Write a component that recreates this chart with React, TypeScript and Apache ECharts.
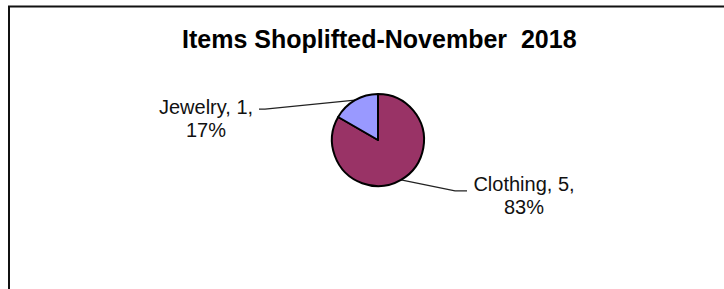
import React, { useEffect, useRef } from "react";
import * as echarts from "echarts";

const titleText = "Items Shoplifted-November  2018";
const categories = ["Clothing", "Jewelry"];
const values = [5, 1];
const colors = ["#993366", "#9999FF"];

export default function App() {
  const ref = useRef<HTMLDivElement>(null);
  useEffect(() => {
    if (!ref.current) return;
    const chart = echarts.init(ref.current, null, { renderer: "svg" });
    const font = "'Liberation Sans', Arial, Helvetica, sans-serif";
    chart.setOption({
      animation: false,
      backgroundColor: "#ffffff",
      title: {
        text: titleText,
        left: 177,
        top: 21,
        textStyle: {
          fontFamily: font,
          fontSize: 25,
          fontWeight: "bold",
          color: "#000",
        },
      },
      graphic: [
        {
          type: "rect",
          shape: { x: 9, y: 6.5, width: 740, height: 320 },
          style: { fill: "none", stroke: "#111", lineWidth: 2 },
          silent: true,
        },
      ],
      series: [
        {
          type: "pie",
          center: [378, 140],
          radius: 46,
          startAngle: 90,
          clockwise: true,
          avoidLabelOverlap: false,
          percentPrecision: 0,
          data: categories.map((c, i) => ({
            name: c,
            value: values[i],
            itemStyle: { color: colors[i] },
          })),
          itemStyle: { borderColor: "#000", borderWidth: 2 },
          label: {
            show: true,
            position: "outside",
            formatter: "{b}, {c},\n{d}%",
            fontFamily: font,
            fontSize: 20,
            lineHeight: 23,
            color: "#111",
            align: "center",
          },
          labelLine: {
            show: true,
            length: 10,
            length2: 10,
            lineStyle: { color: "#222", width: 1.3 },
          },
          emphasis: { disabled: true },
          labelLayout: (p: any) => {
            const s = p.labelLinePoints ? p.labelLinePoints[0] : [0, 0];
            if (p.dataIndex === 1) {
              const mid = [s[0] - 90, s[1] + 9];
              const end = [s[0] - 96, s[1] + 9];
              return {
                x: end[0] - 53,
                y: end[1] + 9,
                align: "center",
                verticalAlign: "middle",
                labelLinePoints: [s, mid, end],
              };
            }
            const mid = [s[0] + 54, s[1] + 11];
            const end = [s[0] + 66, s[1] + 11];
            return {
              x: end[0] + 57,
              y: end[1] + 5,
              align: "center",
              verticalAlign: "middle",
              labelLinePoints: [s, mid, end],
            };
          },
        },
      ],
    });
    return () => chart.dispose();
  }, []);
  return (
    <div
      ref={ref}
      style={{ position: "absolute", left: 0, top: 0, width: 724, height: 289 }}
    />
  );
}
